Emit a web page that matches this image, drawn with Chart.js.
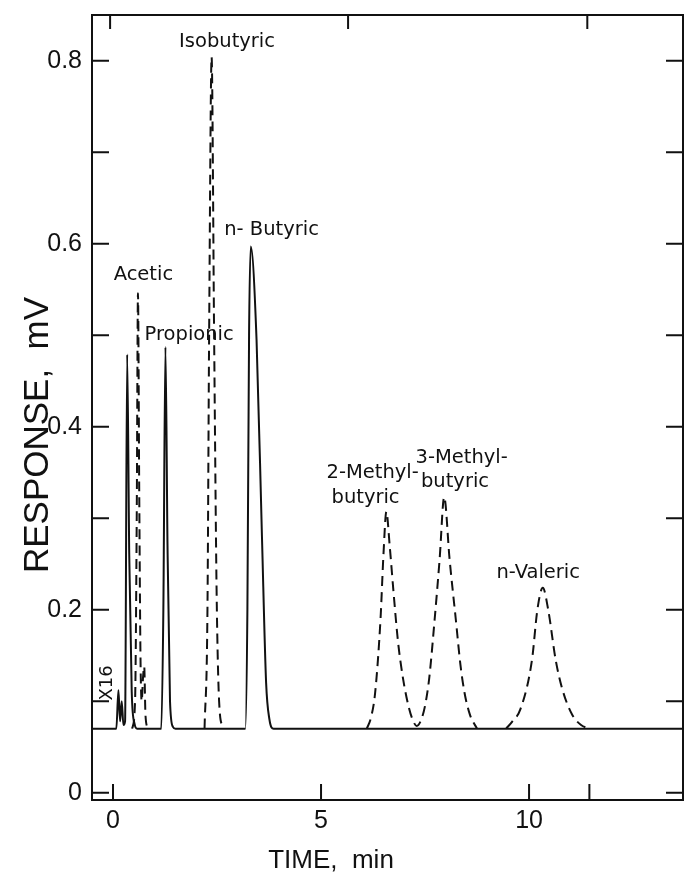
<!DOCTYPE html>
<html>
<head>
<meta charset="utf-8">
<script src="https://cdn.jsdelivr.net/npm/chart.js@4.4.1/dist/chart.umd.min.js"></script>
<style>
  html, body { margin: 0; padding: 0; background: #fff; }
  #wrap { width: 685px; height: 876px; }
</style>
</head>
<body>
<div id="wrap"><canvas id="chartCromatograma"></canvas></div>
<script>
// traço contínuo (tempo em min, resposta em mV)
const solidTime = [-0.5, 0.08, 0.13, 0.17, 0.21, 0.25, 0.29, 0.34, 0.39, 0.45, 0.52, 0.58,
    1.16, 1.21, 1.26, 1.31, 1.37, 1.44, 1.5,
    3.18, 3.23, 3.27, 3.31, 3.45, 3.58, 3.68, 3.76, 3.86, 13.7];
const solidResp = [0.07, 0.07, 0.112, 0.078, 0.1, 0.074, 0.078, 0.479, 0.26, 0.11, 0.075, 0.07,
    0.07, 0.2, 0.487, 0.27, 0.1, 0.072, 0.07,
    0.07, 0.2, 0.5, 0.597, 0.495, 0.28, 0.12, 0.08, 0.07, 0.07];

// traço tracejado (null = sem traço entre os picos)
const dashTime = [0.46, 0.53, 0.57, 0.6, 0.63, 0.66, 0.69, 0.72, 0.75, 0.78, 0.84,
    1.5,
    2.2, 2.27, 2.31, 2.37, 2.43, 2.49, 2.55, 2.64,
    4.5,
    6.1, 6.2, 6.3, 6.43, 6.5, 6.57, 6.65, 6.75, 6.85, 6.97, 7.1, 7.2, 7.3,
    7.4, 7.5, 7.6, 7.73, 7.85, 7.96, 8.09, 8.24, 8.35, 8.45, 8.58, 8.75,
    9.0,
    9.45, 9.6, 9.79, 10.07, 10.2, 10.33, 10.46, 10.64, 10.8, 11.04, 11.25, 11.45];
const dashResp = [0.07, 0.1, 0.3, 0.546, 0.33, 0.15, 0.1, 0.125, 0.138, 0.085, 0.07,
    null,
    0.07, 0.2, 0.5, 0.804, 0.5, 0.22, 0.1, 0.07,
    null,
    0.07, 0.082, 0.109, 0.19, 0.26, 0.307, 0.27, 0.215, 0.165, 0.125, 0.095, 0.08, 0.073,
    0.079, 0.095, 0.125, 0.189, 0.255, 0.323, 0.255, 0.189, 0.14, 0.109, 0.085, 0.07,
    null,
    0.07, 0.078, 0.091, 0.145, 0.2, 0.224, 0.2, 0.145, 0.113, 0.085, 0.074, 0.07];

// eixos
const yTickValues = [0, 0.1, 0.2, 0.3, 0.4, 0.5, 0.6, 0.7, 0.8];
const yTickLabels = ['0', '', '0.2', '', '0.4', '', '0.6', '', '0.8'];
const xTickValues = [0, 5, 10];
const xTickLabels = ['0', '5', '10'];
const bottomMarkTimes = [0, 5, 10, 11.45];
const topMarkTimes = [-0.07, 5.65, 11.4];

// nomes dos picos
const peakNames = ['Acetic', 'Propionic', 'Isobutyric', 'n- Butyric', '2-Methyl-', 'butyric', '3-Methyl-', 'butyric', 'n-Valeric'];
const peakNameTime = [0.73, 1.83, 2.74, 3.81, 6.24, 6.07, 8.38, 8.22, 10.22];
const peakNameResp = [0.566, 0.5, 0.821, 0.615, 0.35, 0.322, 0.366, 0.34, 0.24];

const toPoints = (xs, ys) => xs.map((x, i) => ({ x: x, y: ys[i] }));

const INK = '#111';

const moldura = {
    id: 'moldura',
    afterDatasetsDraw(chart) {
        const { ctx, chartArea: a, scales: { x, y } } = chart;
        ctx.save();
        ctx.strokeStyle = INK;
        ctx.lineWidth = 2;
        ctx.strokeRect(a.left, a.top, a.right - a.left, a.bottom - a.top);

        // marcas para dentro
        ctx.beginPath();
        yTickValues.forEach(v => {
            const py = y.getPixelForValue(v);
            ctx.moveTo(a.left, py); ctx.lineTo(a.left + 17, py);
            ctx.moveTo(a.right, py); ctx.lineTo(a.right - 17, py);
        });
        bottomMarkTimes.forEach(t => {
            const px = x.getPixelForValue(t);
            ctx.moveTo(px, a.bottom); ctx.lineTo(px, a.bottom - 16);
        });
        topMarkTimes.forEach(t => {
            const px = x.getPixelForValue(t);
            ctx.moveTo(px, a.top); ctx.lineTo(px, a.top + 14);
        });
        ctx.stroke();

        // rótulos dos picos
        ctx.fillStyle = INK;
        ctx.font = '19.5px "DejaVu Sans"';
        ctx.textAlign = 'center';
        ctx.textBaseline = 'middle';
        peakNames.forEach((n, i) => {
            ctx.fillText(n, x.getPixelForValue(peakNameTime[i]), y.getPixelForValue(peakNameResp[i]));
        });

        // atenuação
        ctx.save();
        ctx.translate(x.getPixelForValue(-0.14), y.getPixelForValue(0.12));
        ctx.rotate(-Math.PI / 2);
        ctx.font = '18px "DejaVu Sans"';
        ctx.fillText('X16', 0, 0);
        ctx.restore();

        // títulos dos eixos
        ctx.font = '26px "Liberation Sans"';
        ctx.fillText('TIME,  min', 331, 861);
        ctx.save();
        ctx.translate(38, 435);
        ctx.rotate(-Math.PI / 2);
        ctx.font = '35px "Liberation Sans"';
        ctx.fillText('RESPONSE,  mV', 0, 0);
        ctx.restore();
        ctx.restore();
    }
};

new Chart(document.getElementById('chartCromatograma'), {
    type: 'line',
    data: {
        datasets: [
            {
                data: toPoints(solidTime, solidResp),
                borderColor: INK,
                borderWidth: 2,
                pointRadius: 0,
                cubicInterpolationMode: 'monotone',
                fill: false
            },
            {
                data: toPoints(dashTime, dashResp),
                borderColor: INK,
                borderWidth: 2,
                borderDash: [10, 6],
                pointRadius: 0,
                cubicInterpolationMode: 'monotone',
                spanGaps: false,
                fill: false
            }
        ]
    },
    options: {
        responsive: true,
        maintainAspectRatio: false,
        animation: false,
        layout: { padding: { top: 15, right: 2, left: 0, bottom: 0 } },
        plugins: { legend: { display: false }, tooltip: { enabled: false } },
        scales: {
            x: {
                type: 'linear',
                min: -0.505,
                max: 13.7,
                grid: { display: false, drawTicks: false },
                border: { display: false },
                afterBuildTicks: s => { s.ticks = xTickValues.map(v => ({ value: v })); },
                afterFit: s => { s.height = 76; s.paddingLeft = 0; s.paddingRight = 0; },
                ticks: {
                    autoSkip: false,
                    maxRotation: 0,
                    padding: 6,
                    color: INK,
                    font: { family: 'Liberation Sans', size: 25 },
                    callback: v => xTickLabels[xTickValues.indexOf(v)]
                }
            },
            y: {
                min: -0.008,
                max: 0.85,
                grid: { display: false, drawTicks: false },
                border: { display: false },
                afterBuildTicks: s => { s.ticks = yTickValues.map(v => ({ value: v })); },
                afterFit: s => { s.width = 92; s.paddingTop = 0; s.paddingBottom = 0; },
                ticks: {
                    autoSkip: false,
                    padding: 10,
                    color: INK,
                    font: { family: 'Liberation Sans', size: 25 },
                    callback: v => yTickLabels[yTickValues.indexOf(v)]
                }
            }
        }
    },
    plugins: [moldura]
});
</script>
</body>
</html>
